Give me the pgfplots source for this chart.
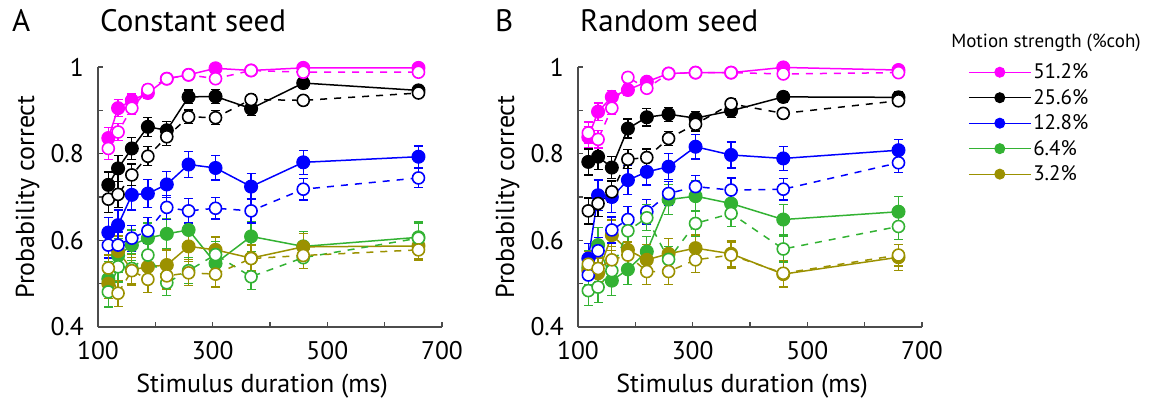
\documentclass[border=0pt]{standalone}
\usepackage{fontspec}
\setmainfont{PT Sans}
\usepackage{pgfplots}
\pgfplotsset{compat=1.18}
\definecolor{cM}{RGB}{255,0,255}
\definecolor{cK}{RGB}{0,0,0}
\definecolor{cB}{RGB}{0,0,255}
\definecolor{cG}{RGB}{51,178,51}
\definecolor{cO}{RGB}{155,145,0}
\pgfplotsset{
  panel/.style={
    scale only axis, width=344pt, height=260pt,
    xmin=100, xmax=700, ymin=0.4, ymax=1,
    axis lines=left, axis line style={-, line width=1.3pt, color=black!70},
    xtick={100,300,500,700}, minor xtick={200,400,600},
    ytick={0.4,0.6,0.8,1}, minor ytick={0.5,0.7,0.9},
    xticklabels={100,300,500,700}, yticklabels={0.4,0.6,0.8,1},
    tick align=inside, major tick length=5pt, minor tick length=5pt,
    every tick/.style={line width=1.3pt, color=black!70},
    ticklabel style={font=\fontsize{25.5}{30}\selectfont, inner sep=0pt},
    xticklabel style={yshift=-14pt},
    yticklabel style={xshift=-14pt},
    /pgf/number format/assume math mode=true,
    xlabel={Stimulus duration (ms)}, ylabel={Probability correct},
    label style={font=\fontsize{26}{30}\selectfont},
    xlabel style={at={(axis description cs:0.477,-0.25)}, anchor=base},
    ylabel style={at={(axis description cs:-0.205,0.5)}, anchor=center},
    clip=false,
  },
  fil/.style={color=#1, solid, line width=1.5pt, mark=*, mark size=6.5pt,
    mark options={solid, fill=#1, draw=#1, line width=1pt},
    error bars/y dir=both, error bars/y explicit,
    error bars/error bar style={solid, line width=1.3pt, color=#1},
    error bars/error mark options={solid, rotate=90, mark size=4.5pt, line width=1.3pt, color=#1}},
  opn/.style={color=#1, dash pattern=on 7pt off 7pt, line width=1.5pt, mark=*, mark size=6pt,
    mark options={solid, fill=white, draw=#1, line width=1.6pt},
    error bars/y dir=both, error bars/y explicit,
    error bars/error bar style={solid, line width=1.3pt, color=#1},
    error bars/error mark options={solid, rotate=90, mark size=4.5pt, line width=1.3pt, color=#1}},
}
\begin{document}
\begin{tikzpicture}[x=1pt,y=1pt]
\path[use as bounding box] (0,0) rectangle (1156,402);
\node[anchor=base west, inner sep=0pt, font=\fontsize{31}{34}\selectfont] at (12,370) {A};
\node[anchor=base west, inner sep=0pt, font=\fontsize{31}{34}\selectfont] at (100,370) {Constant seed};
\node[anchor=base west, inner sep=0pt, font=\fontsize{31}{34}\selectfont] at (495,370) {B};
\node[anchor=base west, inner sep=0pt, font=\fontsize{31}{34}\selectfont] at (580,370) {Random seed};

\begin{axis}[panel, at={(98pt,75pt)}, anchor=south west]
\addplot[fil=cM] coordinates {(118,0.836) +- (0,0.025) (135,0.905) +- (0,0.02) (159,0.923) +- (0,0.015) (187,0.940) +- (0,0.012) (220,0.973) +- (0,0.01) (258,0.982) +- (0,0.008) (305,0.997) +- (0,0.006) (367,0.992) +- (0,0.006) (458,0.998) +- (0,0.005) (659,0.998) +- (0,0.005)};
\addplot[fil=cK] coordinates {(118,0.728) +- (0,0.03) (135,0.766) +- (0,0.03) (159,0.812) +- (0,0.025) (187,0.862) +- (0,0.022) (220,0.854) +- (0,0.02) (258,0.931) +- (0,0.016) (305,0.932) +- (0,0.016) (367,0.904) +- (0,0.016) (458,0.963) +- (0,0.012) (659,0.946) +- (0,0.012)};
\addplot[fil=cB] coordinates {(118,0.618) +- (0,0.035) (135,0.635) +- (0,0.035) (159,0.705) +- (0,0.035) (187,0.708) +- (0,0.033) (220,0.729) +- (0,0.03) (258,0.775) +- (0,0.03) (305,0.767) +- (0,0.028) (367,0.724) +- (0,0.03) (458,0.780) +- (0,0.028) (659,0.793) +- (0,0.025)};
\addplot[fil=cG] coordinates {(118,0.511) +- (0,0.04) (135,0.565) +- (0,0.04) (159,0.589) +- (0,0.035) (187,0.605) +- (0,0.035) (220,0.615) +- (0,0.035) (258,0.624) +- (0,0.035) (305,0.547) +- (0,0.035) (367,0.609) +- (0,0.035) (458,0.586) +- (0,0.035) (659,0.607) +- (0,0.035)};
\addplot[fil=cO] coordinates {(118,0.500) +- (0,0.035) (135,0.575) +- (0,0.035) (159,0.532) +- (0,0.035) (187,0.539) +- (0,0.035) (220,0.543) +- (0,0.035) (258,0.586) +- (0,0.035) (305,0.578) +- (0,0.03) (367,0.559) +- (0,0.03) (458,0.585) +- (0,0.03) (659,0.587) +- (0,0.03)};
\addplot[opn=cM] coordinates {(118,0.812) +- (0,0.025) (135,0.850) +- (0,0.02) (159,0.905) +- (0,0.015) (187,0.948) +- (0,0.012) (220,0.973) +- (0,0.01) (258,0.982) +- (0,0.008) (305,0.973) +- (0,0.008) (367,0.992) +- (0,0.006) (458,0.988) +- (0,0.006) (659,0.988) +- (0,0.006)};
\addplot[opn=cK] coordinates {(118,0.695) +- (0,0.03) (135,0.706) +- (0,0.03) (159,0.751) +- (0,0.025) (187,0.794) +- (0,0.022) (220,0.839) +- (0,0.02) (258,0.885) +- (0,0.016) (305,0.883) +- (0,0.016) (367,0.925) +- (0,0.012) (458,0.923) +- (0,0.012) (659,0.940) +- (0,0.01)};
\addplot[opn=cB] coordinates {(118,0.589) +- (0,0.03) (135,0.589) +- (0,0.03) (159,0.605) +- (0,0.03) (187,0.622) +- (0,0.03) (220,0.676) +- (0,0.028) (258,0.668) +- (0,0.028) (305,0.674) +- (0,0.025) (367,0.668) +- (0,0.028) (458,0.718) +- (0,0.025) (659,0.744) +- (0,0.022)};
\addplot[opn=cG] coordinates {(118,0.481) +- (0,0.035) (135,0.539) +- (0,0.035) (159,0.535) +- (0,0.035) (187,0.566) +- (0,0.035) (220,0.502) +- (0,0.03) (258,0.530) +- (0,0.03) (305,0.567) +- (0,0.03) (367,0.516) +- (0,0.03) (458,0.560) +- (0,0.025) (659,0.605) +- (0,0.035)};
\addplot[opn=cO] coordinates {(118,0.536) +- (0,0.03) (135,0.478) +- (0,0.03) (159,0.530) +- (0,0.03) (187,0.510) +- (0,0.03) (220,0.518) +- (0,0.03) (258,0.525) +- (0,0.03) (305,0.522) +- (0,0.03) (367,0.558) +- (0,0.03) (458,0.565) +- (0,0.03) (659,0.578) +- (0,0.025)};
\end{axis}

\begin{axis}[panel, at={(578pt,75pt)}, anchor=south west,
  legend style={at={(axis description cs:1.134,1.02)}, anchor=north west, draw=none, fill=none,
    font=\fontsize{21}{24}\selectfont, row sep=5pt, inner sep=0pt,
    nodes={inner sep=2pt}},
  legend cell align=left,
  legend image code/.code={\draw[mark repeat=2, mark phase=2, #1, line width=1pt, mark size=5pt] plot coordinates {(0pt,0pt) (31pt,0pt) (62pt,0pt)};}]
\addplot[fil=cM] coordinates {(118,0.838) +- (0,0.025) (135,0.897) +- (0,0.02) (159,0.931) +- (0,0.015) (187,0.947) +- (0,0.012) (220,0.966) +- (0,0.01) (258,0.985) +- (0,0.008) (305,0.987) +- (0,0.006) (367,0.987) +- (0,0.006) (458,0.999) +- (0,0.005) (659,0.993) +- (0,0.005)};
\addlegendentry{51.2\%}
\addplot[fil=cK] coordinates {(118,0.781) +- (0,0.03) (135,0.793) +- (0,0.03) (159,0.768) +- (0,0.025) (187,0.858) +- (0,0.022) (220,0.884) +- (0,0.02) (258,0.891) +- (0,0.016) (305,0.882) +- (0,0.016) (367,0.899) +- (0,0.016) (458,0.931) +- (0,0.012) (659,0.930) +- (0,0.012)};
\addlegendentry{25.6\%}
\addplot[fil=cB] coordinates {(118,0.558) +- (0,0.035) (135,0.704) +- (0,0.035) (159,0.700) +- (0,0.035) (187,0.739) +- (0,0.033) (220,0.758) +- (0,0.03) (258,0.770) +- (0,0.03) (305,0.816) +- (0,0.028) (367,0.797) +- (0,0.03) (458,0.789) +- (0,0.028) (659,0.808) +- (0,0.025)};
\addlegendentry{12.8\%}
\addplot[fil=cG] coordinates {(118,0.537) +- (0,0.04) (135,0.589) +- (0,0.04) (159,0.507) +- (0,0.035) (187,0.533) +- (0,0.035) (220,0.574) +- (0,0.035) (258,0.694) +- (0,0.035) (305,0.702) +- (0,0.035) (367,0.685) +- (0,0.035) (458,0.648) +- (0,0.035) (659,0.666) +- (0,0.035)};
\addlegendentry{6.4\%}
\addplot[fil=cO] coordinates {(118,0.530) +- (0,0.035) (135,0.524) +- (0,0.035) (159,0.612) +- (0,0.035) (187,0.578) +- (0,0.035) (220,0.555) +- (0,0.035) (258,0.569) +- (0,0.035) (305,0.582) +- (0,0.03) (367,0.569) +- (0,0.03) (458,0.522) +- (0,0.03) (659,0.561) +- (0,0.03)};
\addlegendentry{3.2\%}
\addplot[opn=cM, forget plot] coordinates {(118,0.848) +- (0,0.025) (135,0.833) +- (0,0.02) (159,0.905) +- (0,0.015) (187,0.976) +- (0,0.012) (220,0.951) +- (0,0.01) (258,0.985) +- (0,0.008) (305,0.987) +- (0,0.006) (367,0.987) +- (0,0.006) (458,0.984) +- (0,0.006) (659,0.987) +- (0,0.006)};
\addplot[opn=cK, forget plot] coordinates {(118,0.668) +- (0,0.03) (135,0.685) +- (0,0.03) (159,0.712) +- (0,0.025) (187,0.787) +- (0,0.022) (220,0.791) +- (0,0.02) (258,0.835) +- (0,0.016) (305,0.868) +- (0,0.016) (367,0.915) +- (0,0.012) (458,0.893) +- (0,0.012) (659,0.922) +- (0,0.01)};
\addplot[opn=cB, forget plot] coordinates {(118,0.520) +- (0,0.03) (135,0.576) +- (0,0.03) (159,0.624) +- (0,0.03) (187,0.648) +- (0,0.03) (220,0.666) +- (0,0.028) (258,0.708) +- (0,0.028) (305,0.724) +- (0,0.025) (367,0.716) +- (0,0.028) (458,0.718) +- (0,0.025) (659,0.779) +- (0,0.022)};
\addplot[opn=cG, forget plot] coordinates {(118,0.484) +- (0,0.035) (135,0.492) +- (0,0.035) (159,0.530) +- (0,0.035) (187,0.622) +- (0,0.035) (220,0.652) +- (0,0.03) (258,0.556) +- (0,0.03) (305,0.639) +- (0,0.03) (367,0.662) +- (0,0.03) (458,0.580) +- (0,0.03) (659,0.632) +- (0,0.03)};
\addplot[opn=cO, forget plot] coordinates {(118,0.545) +- (0,0.03) (135,0.535) +- (0,0.03) (159,0.555) +- (0,0.03) (187,0.566) +- (0,0.03) (220,0.528) +- (0,0.03) (258,0.528) +- (0,0.03) (305,0.555) +- (0,0.03) (367,0.566) +- (0,0.03) (458,0.524) +- (0,0.03) (659,0.566) +- (0,0.025)};
\end{axis}
\node[anchor=base, inner sep=0pt, font=\fontsize{19}{22}\selectfont] at (1046,354) {Motion strength (\%coh)};
\end{tikzpicture}
\end{document}
